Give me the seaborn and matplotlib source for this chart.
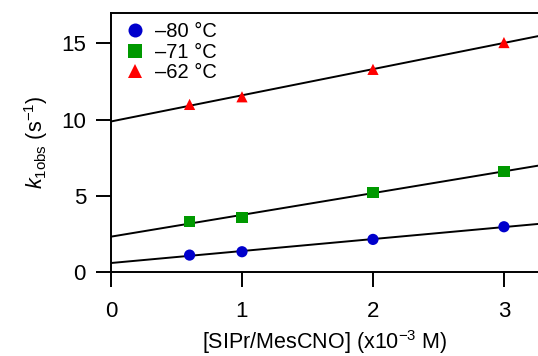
import numpy as np
import pandas as pd
import matplotlib
matplotlib.use("Agg")
import matplotlib.pyplot as plt
import seaborn as sns

# Data
conc = [0.6, 1.0, 2.0, 3.0]
k_m80 = [1.11, 1.33, 2.14, 2.97]
k_m71 = [3.30, 3.58, 5.22, 6.61]
k_m62 = [11.0, 11.5, 13.3, 15.06]
series_labels = ["\u201380 \u00b0C", "\u201371 \u00b0C", "\u201362 \u00b0C"]
xticks = [0, 1, 2, 3]
yticks = [0, 5, 10, 15]

sns.set_style("ticks")
plt.rcParams['font.family'] = ['Liberation Sans', 'DejaVu Sans']
plt.rcParams['mathtext.fontset'] = 'custom'
plt.rcParams['mathtext.rm'] = 'Liberation Sans'
plt.rcParams['mathtext.it'] = 'Liberation Sans:italic'
for key in ['text.color', 'axes.labelcolor', 'xtick.color', 'ytick.color', 'axes.edgecolor']:
    plt.rcParams[key] = 'black'

rows = []
for lab, ks in zip(series_labels, [k_m80, k_m71, k_m62]):
    for x, k in zip(conc, ks):
        rows.append({"conc": x, "k": k, "T": lab})
df = pd.DataFrame(rows)

fig = plt.figure(figsize=(5.38, 3.56), dpi=100)
ax = fig.add_axes([111/538, 1-272/356, (538-111)/538, (272-13)/356])

xmax = 3.26
xfit = np.array([0.0, xmax + 0.05])
for ks in [k_m80, k_m71, k_m62]:
    m, b = np.polyfit(conc, ks, 1)
    fit_df = pd.DataFrame({"x": xfit, "y": m * xfit + b})
    sns.lineplot(data=fit_df, x="x", y="y", ax=ax, color="black", lw=1.4, zorder=2)

palette = {series_labels[0]: "#0000cc", series_labels[1]: "#009900", series_labels[2]: "#ff0000"}
markers = {series_labels[0]: "o", series_labels[1]: "s", series_labels[2]: "^"}
sns.scatterplot(data=df, x="conc", y="k", hue="T", style="T", palette=palette,
                markers=markers, s=65, linewidth=0, ax=ax, zorder=3)

ax.set_xlim(0, xmax)
ax.set_ylim(0, 17)
ax.set_xticks(xticks)
ax.set_yticks(yticks)
ax.tick_params(direction="out", length=11, width=1.4, labelsize=16, pad=7)
ax.tick_params(axis="x", pad=10)
for s in ["left", "bottom", "top"]:
    ax.spines[s].set_linewidth(1.4)
ax.spines["right"].set_visible(False)
ax.spines["top"].set_visible(True)

ax.set_xlabel("[SIPr/MesCNO] (x10$^{-3}$ M)", fontsize=15.5, labelpad=4)
ax.set_ylabel(r"$k_{\mathrm{1obs}}$ (s$^{-1}$)", fontsize=15.5, labelpad=8)

leg = ax.legend(loc="upper left", frameon=False, fontsize=14.5, handletextpad=0.25,
                borderaxespad=0.1, labelspacing=0.08, markerscale=1.25,
                borderpad=0.35, handlelength=1.5)
fig.savefig("out.png", dpi=100)
